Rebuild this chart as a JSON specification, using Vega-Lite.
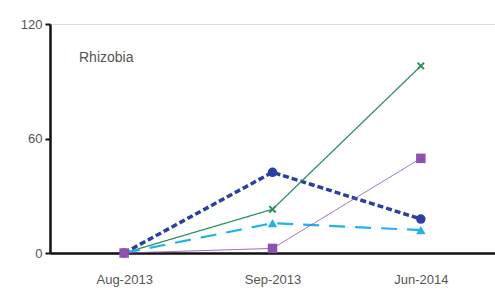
{
  "$schema": "https://vega.github.io/schema/vega-lite/v6.json",
  "autosize": "none",
  "width": 445,
  "height": 229,
  "padding": {"left": 50, "top": 24, "right": 0, "bottom": 38},
  "background": "white",
  "title": {"text": "Rhizobia", "anchor": "start", "frame": "group", "dx": 29, "dy": 47, "fontSize": 14, "font": "Liberation Sans", "fontWeight": "normal", "color": "#555555", "baseline": "top", "offset": 0},
  "data": {"values": [
    {"date": "Aug-2013", "series": "A", "value": 0},
    {"date": "Sep-2013", "series": "A", "value": 42.3},
    {"date": "Jun-2014", "series": "A", "value": 17.8},
    {"date": "Aug-2013", "series": "B", "value": 0},
    {"date": "Sep-2013", "series": "B", "value": 22.9},
    {"date": "Jun-2014", "series": "B", "value": 98},
    {"date": "Aug-2013", "series": "D", "value": 0},
    {"date": "Sep-2013", "series": "D", "value": 15.6},
    {"date": "Jun-2014", "series": "D", "value": 12},
    {"date": "Aug-2013", "series": "C", "value": 0},
    {"date": "Sep-2013", "series": "C", "value": 2.4},
    {"date": "Jun-2014", "series": "C", "value": 49.6}
  ]},
  "encoding": {
    "x": {"field": "date", "type": "ordinal", "sort": ["Aug-2013", "Sep-2013", "Jun-2014"],
      "scale": {"type": "point", "padding": 0.5},
      "axis": {"title": null, "labelAngle": 0, "ticks": false, "domainColor": "#111111", "domainWidth": 2.5, "labelFont": "Liberation Sans", "labelFontSize": 13, "labelColor": "#555555", "labelPadding": 20, "grid": false}},
    "y": {"field": "value", "type": "quantitative", "scale": {"domain": [0, 120], "nice": false},
      "axis": {"title": null, "values": [0, 60, 120], "domainColor": "#111111", "domainWidth": 2.5, "tickColor": "#111111", "tickWidth": 2, "tickSize": 5, "labelFont": "Liberation Sans", "labelFontSize": 13, "labelColor": "#555555", "labelPadding": 3, "grid": false}}
  },
  "layer": [
    {"mark": {"type": "line"},
     "encoding": {
       "color": {"field": "series", "type": "nominal", "scale": {"domain": ["A", "B", "C", "D"], "range": ["#2b3f9e", "#2f8f5f", "#9050b0", "#22b2ea"]}, "legend": null},
       "strokeWidth": {"field": "series", "type": "nominal", "scale": {"type": "ordinal", "domain": ["A", "B", "C", "D"], "range": [3.5, 1.3, 0.9, 2.2]}, "legend": null},
       "strokeDash": {"field": "series", "type": "nominal", "scale": {"domain": ["A", "B", "C", "D"], "range": [[6, 3], [1, 0], [1, 0], [16, 10]]}, "legend": null}
     }},
    {"transform": [{"filter": "datum.series !== 'B'"}],
     "mark": {"type": "point", "filled": true, "opacity": 1},
     "encoding": {
       "color": {"field": "series", "type": "nominal", "scale": {"domain": ["A", "B", "C", "D"], "range": ["#2b3f9e", "#2f8f5f", "#9050b0", "#22b2ea"]}, "legend": null},
       "shape": {"field": "series", "type": "nominal", "scale": {"domain": ["A", "C", "D"], "range": ["circle", "square", "triangle-up"]}, "legend": null},
       "size": {"value": 90}
     }},
    {"transform": [{"filter": "datum.series === 'B' && datum.date !== 'Aug-2013'"}],
     "mark": {"type": "point", "filled": false, "shape": "M-1,-1L1,1M-1,1L1,-1", "strokeWidth": 2, "size": 40, "color": "#2f8f5f", "opacity": 1},
     "encoding": {}}
  ]
}
